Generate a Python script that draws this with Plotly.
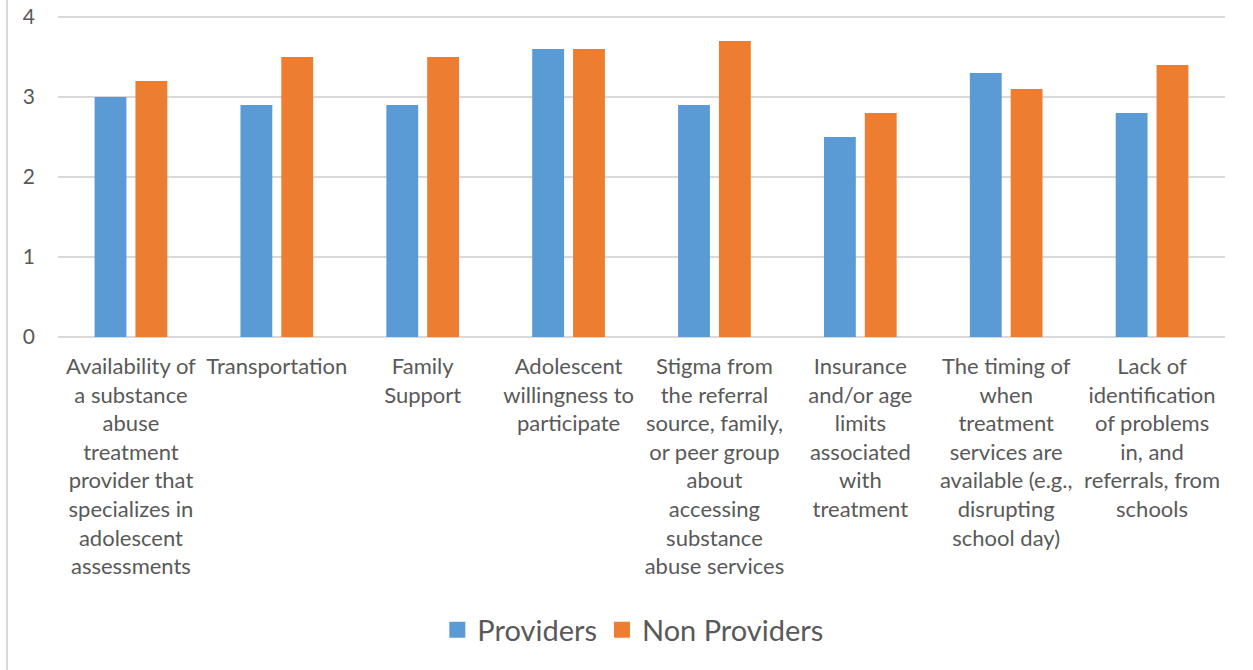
import plotly.graph_objects as go

categories = [
    "Availability of<br>a substance<br>abuse<br>treatment<br>provider that<br>specializes in<br>adolescent<br>assessments",
    "Transportation",
    "Family<br>Support",
    "Adolescent<br>willingness to<br>participate",
    "Stigma from<br>the referral<br>source, family,<br>or peer group<br>about<br>accessing<br>substance<br>abuse services",
    "Insurance<br>and/or age<br>limits<br>associated<br>with<br>treatment",
    "The timing of<br>when<br>treatment<br>services are<br>available (e.g.,<br>disrupting<br>school day)",
    "Lack of<br>identification<br>of problems<br>in, and<br>referrals, from<br>schools",
]
series_names = ["Providers", "Non Providers"]
providers = [3.0, 2.9, 2.9, 3.6, 2.9, 2.5, 3.3, 2.8]
non_providers = [3.2, 3.5, 3.5, 3.6, 3.7, 2.8, 3.1, 3.4]
colors = ["#5B9BD5", "#ED7D31"]
y_ticks = [0, 1, 2, 3, 4]

font_family = "Lato, 'Open Sans', sans-serif"
text_color = "#595959"

fig = go.Figure()
for name, vals, col in zip(series_names, [providers, non_providers], colors):
    fig.add_trace(go.Bar(name=name, x=categories, y=vals, showlegend=False,
                         marker=dict(color=col, line=dict(width=0))))
# legend entries with larger square swatches
for name, col in zip(series_names, colors):
    fig.add_trace(go.Scatter(name=name, x=[None], y=[None], mode="markers",
                             marker=dict(symbol="square", size=18, color=col),
                             showlegend=True))

# plot height 324 px for 4.05 units -> 80 px per unit, gridline 4 at y=17
fig.update_layout(
    width=1253, height=670,
    margin=dict(l=58, r=28, t=13, b=333, autoexpand=False),
    paper_bgcolor="white", plot_bgcolor="white",
    barmode="group", bargap=0.44, bargroupgap=0.22,
    font=dict(family=font_family, color=text_color, size=22),
    showlegend=True,
    legend=dict(orientation="h", x=0.493, xanchor="center", y=-0.904, yanchor="middle",
                font=dict(size=29, color=text_color), itemsizing="trace",
                traceorder="normal"),
    xaxis=dict(showgrid=False, showline=False, ticks="", tickangle=0, automargin=False,
               ticklabelstandoff=14,
               tickfont=dict(size=22, color=text_color)),
    yaxis=dict(range=[0, 4.05], tickvals=y_ticks, showgrid=True,
               gridcolor="#D9D9D9", gridwidth=1.5,
               zeroline=True, zerolinecolor="#D9D9D9", zerolinewidth=1.5,
               showline=False, ticks="", ticklabelstandoff=22, automargin=False,
               tickfont=dict(size=21, color=text_color)),
    shapes=[dict(type="line", xref="paper", yref="paper",
                 x0=-0.0437, x1=-0.0437, y0=1.06, y1=-1.05,
                 line=dict(color="#D9D9D9", width=2))],
)

fig.write_html("out.html")
